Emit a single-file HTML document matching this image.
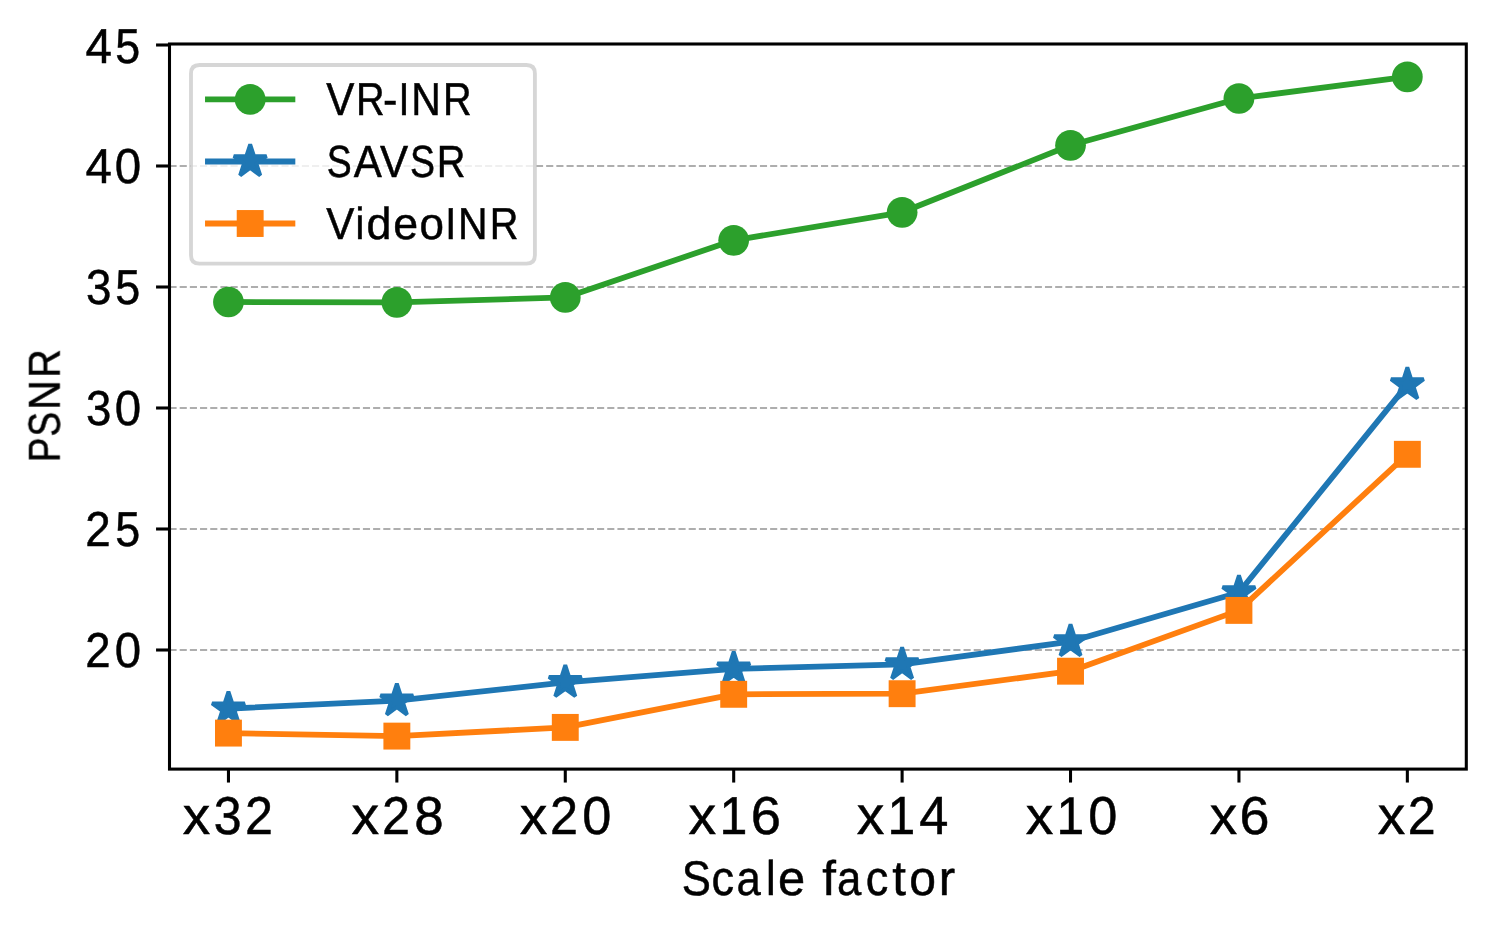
<!DOCTYPE html>
<html lang="en"><head><meta charset="utf-8"><title>PSNR vs scale factor</title>
<style>html,body{margin:0;padding:0;background:#fff}body{width:1494px;height:932px;overflow:hidden}svg{display:block}text{font-family:"Liberation Sans",sans-serif;fill:#000;stroke:#000;stroke-width:0.5px;text-rendering:geometricPrecision}</style></head><body>
<svg width="1494" height="932" viewBox="0 0 1494 932">
<rect x="0" y="0" width="1494" height="932" fill="#fff"/>
<g stroke="#aeaeae" stroke-width="1.92" stroke-dasharray="7.11 3.07" fill="none">
<line x1="169.5" y1="650" x2="1466.3" y2="650"/>
<line x1="169.5" y1="529" x2="1466.3" y2="529"/>
<line x1="169.5" y1="408" x2="1466.3" y2="408"/>
<line x1="169.5" y1="287" x2="1466.3" y2="287"/>
<line x1="169.5" y1="166" x2="1466.3" y2="166"/>
</g>
<g><polyline points="228.45,302 396.86,302.3 565.28,297.4 733.69,240.3 902.11,212.3 1070.52,145.3 1238.94,98.5 1407.35,76.8" fill="none" stroke="#2ca02c" stroke-width="5.76" stroke-linejoin="round" stroke-linecap="square"/><circle cx="228.45" cy="302" r="15.37" fill="#2ca02c"/><circle cx="396.86" cy="302.3" r="15.37" fill="#2ca02c"/><circle cx="565.28" cy="297.4" r="15.37" fill="#2ca02c"/><circle cx="733.69" cy="240.3" r="15.37" fill="#2ca02c"/><circle cx="902.11" cy="212.3" r="15.37" fill="#2ca02c"/><circle cx="1070.52" cy="145.3" r="15.37" fill="#2ca02c"/><circle cx="1238.94" cy="98.5" r="15.37" fill="#2ca02c"/><circle cx="1407.35" cy="76.8" r="15.37" fill="#2ca02c"/></g>
<g><polyline points="228.45,708.7 396.86,700.7 565.28,682.3 733.69,668.8 902.11,664.45 1070.52,641.6 1238.94,592.5 1407.35,384.6" fill="none" stroke="#1f77b4" stroke-width="5.76" stroke-linejoin="round" stroke-linecap="square"/><polygon points="228.45,691.5 224.58,703.38 212.09,703.38 222.2,710.73 218.34,722.62 228.45,715.27 238.56,722.62 234.69,710.73 244.8,703.38 232.31,703.38" fill="#1f77b4" stroke="#1f77b4" stroke-width="3.84" stroke-linejoin="bevel"/><polygon points="396.86,683.5 393,695.38 380.5,695.38 390.61,702.73 386.75,714.62 396.86,707.27 406.97,714.62 403.11,702.73 413.22,695.38 400.72,695.38" fill="#1f77b4" stroke="#1f77b4" stroke-width="3.84" stroke-linejoin="bevel"/><polygon points="565.28,665.1 561.41,676.98 548.92,676.98 559.03,684.33 555.17,696.22 565.28,688.87 575.39,696.22 571.52,684.33 581.63,676.98 569.14,676.98" fill="#1f77b4" stroke="#1f77b4" stroke-width="3.84" stroke-linejoin="bevel"/><polygon points="733.69,651.6 729.83,663.48 717.33,663.48 727.44,670.83 723.58,682.72 733.69,675.37 743.8,682.72 739.94,670.83 750.05,663.48 737.55,663.48" fill="#1f77b4" stroke="#1f77b4" stroke-width="3.84" stroke-linejoin="bevel"/><polygon points="902.11,647.25 898.25,659.13 885.75,659.13 895.86,666.48 892,678.37 902.11,671.02 912.22,678.37 908.36,666.48 918.47,659.13 905.97,659.13" fill="#1f77b4" stroke="#1f77b4" stroke-width="3.84" stroke-linejoin="bevel"/><polygon points="1070.52,624.4 1066.66,636.28 1054.17,636.28 1064.28,643.63 1060.41,655.52 1070.52,648.17 1080.63,655.52 1076.77,643.63 1086.88,636.28 1074.39,636.28" fill="#1f77b4" stroke="#1f77b4" stroke-width="3.84" stroke-linejoin="bevel"/><polygon points="1238.94,575.3 1235.08,587.18 1222.58,587.18 1232.69,594.53 1228.83,606.42 1238.94,599.07 1249.05,606.42 1245.19,594.53 1255.3,587.18 1242.8,587.18" fill="#1f77b4" stroke="#1f77b4" stroke-width="3.84" stroke-linejoin="bevel"/><polygon points="1407.35,367.4 1403.49,379.28 1391,379.28 1401.11,386.63 1397.24,398.52 1407.35,391.17 1417.46,398.52 1413.6,386.63 1423.71,379.28 1411.22,379.28" fill="#1f77b4" stroke="#1f77b4" stroke-width="3.84" stroke-linejoin="bevel"/></g>
<g><polyline points="228.45,733.1 396.86,736.1 565.28,727.4 733.69,694.3 902.11,693.7 1070.52,671.2 1238.94,610.4 1407.35,454.3" fill="none" stroke="#ff7f0e" stroke-width="5.76" stroke-linejoin="round" stroke-linecap="square"/><rect x="215" y="719.65" width="26.9" height="26.9" fill="#ff7f0e"/><rect x="383.41" y="722.65" width="26.9" height="26.9" fill="#ff7f0e"/><rect x="551.83" y="713.95" width="26.9" height="26.9" fill="#ff7f0e"/><rect x="720.24" y="680.85" width="26.9" height="26.9" fill="#ff7f0e"/><rect x="888.66" y="680.25" width="26.9" height="26.9" fill="#ff7f0e"/><rect x="1057.07" y="657.75" width="26.9" height="26.9" fill="#ff7f0e"/><rect x="1225.49" y="596.95" width="26.9" height="26.9" fill="#ff7f0e"/><rect x="1393.91" y="440.85" width="26.9" height="26.9" fill="#ff7f0e"/></g>
<g stroke="#000" stroke-width="3.07" fill="none">
<line x1="228.45" y1="769.1" x2="228.45" y2="782.55"/>
<line x1="396.86" y1="769.1" x2="396.86" y2="782.55"/>
<line x1="565.28" y1="769.1" x2="565.28" y2="782.55"/>
<line x1="733.69" y1="769.1" x2="733.69" y2="782.55"/>
<line x1="902.11" y1="769.1" x2="902.11" y2="782.55"/>
<line x1="1070.52" y1="769.1" x2="1070.52" y2="782.55"/>
<line x1="1238.94" y1="769.1" x2="1238.94" y2="782.55"/>
<line x1="1407.35" y1="769.1" x2="1407.35" y2="782.55"/>
<line x1="156.05" y1="650" x2="169.5" y2="650"/>
<line x1="156.05" y1="529" x2="169.5" y2="529"/>
<line x1="156.05" y1="408" x2="169.5" y2="408"/>
<line x1="156.05" y1="287" x2="169.5" y2="287"/>
<line x1="156.05" y1="166" x2="169.5" y2="166"/>
<line x1="156.05" y1="45" x2="169.5" y2="45"/>
<rect x="169.5" y="44" width="1296.8" height="725.1" stroke-linejoin="miter"/>
</g>
<path d="M199.45,65 L526.45,65 Q534.9,65 534.9,73.45 L534.9,255.25 Q534.9,263.7 526.45,263.7 L199.45,263.7 Q191,263.7 191,255.25 L191,73.45 Q191,65 199.45,65 Z" fill="#fff" fill-opacity="0.8" stroke="#cccccc" stroke-opacity="0.8" stroke-width="3.84" stroke-linejoin="miter"/>
<polyline points="207.91,99.45 292.44,99.45" fill="none" stroke="#2ca02c" stroke-width="5.76" stroke-linejoin="round" stroke-linecap="square"/><circle cx="250.18" cy="99.45" r="15.37" fill="#2ca02c"/>
<polyline points="207.91,161.5 292.44,161.5" fill="none" stroke="#1f77b4" stroke-width="5.76" stroke-linejoin="round" stroke-linecap="square"/><polygon points="250.18,144.3 246.31,156.18 233.82,156.18 243.93,163.53 240.07,175.42 250.18,168.07 260.29,175.42 256.42,163.53 266.53,156.18 254.04,156.18" fill="#1f77b4" stroke="#1f77b4" stroke-width="3.84" stroke-linejoin="bevel"/>
<polyline points="207.91,223.5 292.44,223.5" fill="none" stroke="#ff7f0e" stroke-width="5.76" stroke-linejoin="round" stroke-linecap="square"/><rect x="236.73" y="210.05" width="26.9" height="26.9" fill="#ff7f0e"/>
<g opacity="0.999">
<text transform="translate(85.72 62.77)" font-size="48.93"><tspan x="-0.33" textLength="26.46" lengthAdjust="spacingAndGlyphs">4</tspan><tspan x="29.58" textLength="24.9" lengthAdjust="spacingAndGlyphs">5</tspan></text>
<text transform="translate(85.72 182.99)" font-size="49.06"><tspan x="-0.32" textLength="26.42" lengthAdjust="spacingAndGlyphs">4</tspan><tspan x="28.97" textLength="26.39" lengthAdjust="spacingAndGlyphs">0</tspan></text>
<text transform="translate(87.11 304.02)" font-size="49.08"><tspan x="-1.13" textLength="25.4" lengthAdjust="spacingAndGlyphs">3</tspan><tspan x="28.22" textLength="24.95" lengthAdjust="spacingAndGlyphs">5</tspan></text>
<text transform="translate(87.11 425.02)" font-size="49.07"><tspan x="-1.12" textLength="25.33" lengthAdjust="spacingAndGlyphs">3</tspan><tspan x="27.57" textLength="26.4" lengthAdjust="spacingAndGlyphs">0</tspan></text>
<text transform="translate(86.8 545.53)" font-size="48.94"><tspan x="-1.52" textLength="25.44" lengthAdjust="spacingAndGlyphs">2</tspan><tspan x="28.5" textLength="24.92" lengthAdjust="spacingAndGlyphs">5</tspan></text>
<text transform="translate(86.8 666.5)" font-size="48.9"><tspan x="-1.5" textLength="25.35" lengthAdjust="spacingAndGlyphs">2</tspan><tspan x="27.84" textLength="26.35" lengthAdjust="spacingAndGlyphs">0</tspan></text>
<text transform="translate(182.68 833.65)" font-size="53.21"><tspan x="-0.03" textLength="27.47" lengthAdjust="spacingAndGlyphs">x</tspan><tspan x="30.97" textLength="27.87" lengthAdjust="spacingAndGlyphs">3</tspan><tspan x="62.36" textLength="27.95" lengthAdjust="spacingAndGlyphs">2</tspan></text>
<text transform="translate(351.68 833.9)" font-size="53.3"><tspan x="-0.13" textLength="27.62" lengthAdjust="spacingAndGlyphs">x</tspan><tspan x="30.24" textLength="28.06" lengthAdjust="spacingAndGlyphs">2</tspan><tspan x="62.48" textLength="29.47" lengthAdjust="spacingAndGlyphs">8</tspan></text>
<text transform="translate(519.67 833.74)" font-size="53.2"><tspan x="-0.03" textLength="27.55" lengthAdjust="spacingAndGlyphs">x</tspan><tspan x="30.26" textLength="27.99" lengthAdjust="spacingAndGlyphs">2</tspan><tspan x="62.58" textLength="29.09" lengthAdjust="spacingAndGlyphs">0</tspan></text>
<text transform="translate(688.67 833.95)" font-size="53.35"><tspan x="-0.14" textLength="27.64" lengthAdjust="spacingAndGlyphs">x</tspan><tspan x="30.81" textLength="27.86" lengthAdjust="spacingAndGlyphs">1</tspan><tspan x="62.17" textLength="30.21" lengthAdjust="spacingAndGlyphs">6</tspan></text>
<text transform="translate(856.67 833.82)" font-size="53.74"><tspan x="-0.04" textLength="27.57" lengthAdjust="spacingAndGlyphs">x</tspan><tspan x="30.86" textLength="27.71" lengthAdjust="spacingAndGlyphs">1</tspan><tspan x="62.58" textLength="29.14" lengthAdjust="spacingAndGlyphs">4</tspan></text>
<text transform="translate(1025.67 833.74)" font-size="53.2"><tspan x="-0.03" textLength="27.55" lengthAdjust="spacingAndGlyphs">x</tspan><tspan x="30.85" textLength="27.69" lengthAdjust="spacingAndGlyphs">1</tspan><tspan x="62.58" textLength="29.09" lengthAdjust="spacingAndGlyphs">0</tspan></text>
<text transform="translate(1209.88 833.91)" font-size="53.32"><tspan x="-0.03" textLength="27.43" lengthAdjust="spacingAndGlyphs">x</tspan><tspan x="29.74" textLength="29.98" lengthAdjust="spacingAndGlyphs">6</tspan></text>
<text transform="translate(1377.88 833.82)" font-size="53.38"><tspan x="-0.21" textLength="27.46" lengthAdjust="spacingAndGlyphs">x</tspan><tspan x="29.98" textLength="27.9" lengthAdjust="spacingAndGlyphs">2</tspan></text>
<text transform="translate(683.11 894.68)" font-size="48.83"><tspan x="-1.39" textLength="29.13" lengthAdjust="spacingAndGlyphs">S</tspan><tspan x="28.47" textLength="22.59" lengthAdjust="spacingAndGlyphs">c</tspan><tspan x="53.35" textLength="24.29" lengthAdjust="spacingAndGlyphs">a</tspan><tspan x="82.84" textLength="9.7" lengthAdjust="spacingAndGlyphs">l</tspan><tspan x="94.84" textLength="27.15" lengthAdjust="spacingAndGlyphs">e</tspan> <tspan x="139.08" textLength="13.68" lengthAdjust="spacingAndGlyphs">f</tspan><tspan x="153.83" textLength="24.29" lengthAdjust="spacingAndGlyphs">a</tspan><tspan x="182.64" textLength="22.59" lengthAdjust="spacingAndGlyphs">c</tspan><tspan x="209.24" textLength="13.68" lengthAdjust="spacingAndGlyphs">t</tspan><tspan x="226.05" textLength="26.72" lengthAdjust="spacingAndGlyphs">o</tspan><tspan x="255.68" textLength="16.4" lengthAdjust="spacingAndGlyphs">r</tspan></text>
<text transform="translate(325.9 114.81)" font-size="46.07"><tspan x="0.3" textLength="28.15" lengthAdjust="spacingAndGlyphs">V</tspan><tspan x="30.01" textLength="28.63" lengthAdjust="spacingAndGlyphs">R</tspan><tspan x="56.99" textLength="14.42" lengthAdjust="spacingAndGlyphs">-</tspan><tspan x="72.6" textLength="10.95" lengthAdjust="spacingAndGlyphs">I</tspan><tspan x="85.37" textLength="29.55" lengthAdjust="spacingAndGlyphs">N</tspan><tspan x="117.14" textLength="28.63" lengthAdjust="spacingAndGlyphs">R</tspan></text>
<text transform="translate(327.8 176.64)" font-size="44.98"><tspan x="-1.06" textLength="24.96" lengthAdjust="spacingAndGlyphs">S</tspan><tspan x="25.97" textLength="28.06" lengthAdjust="spacingAndGlyphs">A</tspan><tspan x="52.29" textLength="28.14" lengthAdjust="spacingAndGlyphs">V</tspan><tspan x="82.15" textLength="24.96" lengthAdjust="spacingAndGlyphs">S</tspan><tspan x="109.05" textLength="28.75" lengthAdjust="spacingAndGlyphs">R</tspan></text>
<text transform="translate(325.9 238.79)" font-size="44.73"><tspan x="0.47" textLength="28.14" lengthAdjust="spacingAndGlyphs">V</tspan><tspan x="29.58" textLength="8.83" lengthAdjust="spacingAndGlyphs">i</tspan><tspan x="40.57" textLength="24.92" lengthAdjust="spacingAndGlyphs">d</tspan><tspan x="67.4" textLength="24.83" lengthAdjust="spacingAndGlyphs">e</tspan><tspan x="93.49" textLength="24.43" lengthAdjust="spacingAndGlyphs">o</tspan><tspan x="119.36" textLength="11.04" lengthAdjust="spacingAndGlyphs">I</tspan><tspan x="132.16" textLength="29.54" lengthAdjust="spacingAndGlyphs">N</tspan><tspan x="163.88" textLength="28.69" lengthAdjust="spacingAndGlyphs">R</tspan></text>
<text transform="translate(59.69 459.83) rotate(-90)" font-size="44.8"><tspan x="-2.26" textLength="24.46" lengthAdjust="spacingAndGlyphs">P</tspan><tspan x="23.34" textLength="24.7" lengthAdjust="spacingAndGlyphs">S</tspan><tspan x="50.05" textLength="29.62" lengthAdjust="spacingAndGlyphs">N</tspan><tspan x="81.93" textLength="28.76" lengthAdjust="spacingAndGlyphs">R</tspan></text>
</g>
</svg></body></html>
